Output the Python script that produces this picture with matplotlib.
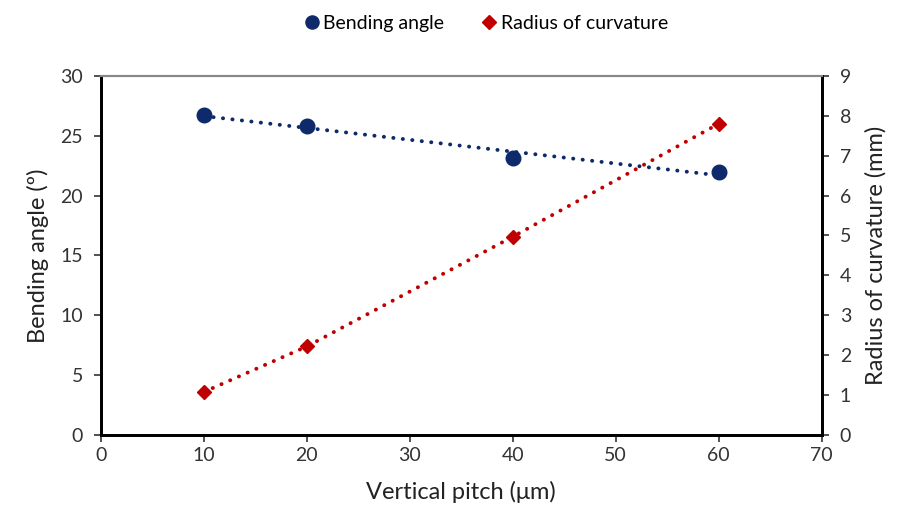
import matplotlib.pyplot as plt
import numpy as np

# data
pitch = np.array([10, 20, 40, 60])
bending_angle = np.array([26.75, 25.8, 23.1, 22.0])
radius_curv = np.array([1.08, 2.22, 4.97, 7.8])

blue = '#0E2A6B'
red = '#C00000'

plt.rcParams['font.family'] = ['Lato', 'DejaVu Sans']

fig = plt.figure(figsize=(8.98, 5.27), dpi=100)
ax = fig.add_axes([0.1125, 0.1746, 0.8025, 0.6814])
ax2 = ax.twinx()

dots = (0, (0.05, 2.4))

# linear trend line for bending angle
k, b = np.polyfit(pitch, bending_angle, 1)
ax.plot(pitch, k * pitch + b, linestyle=dots, color=blue, lw=2.8,
        dash_capstyle='round', zorder=2)
ax.plot(pitch, bending_angle, 'o', color=blue, ms=10.5, label='Bending angle', zorder=3)

ax2.plot(pitch, radius_curv, linestyle=dots, color=red, lw=2.8,
         dash_capstyle='round', zorder=2)
ax2.plot(pitch, radius_curv, 'D', color=red, ms=7.5, label='Radius of curvature', zorder=3)

ax.set_xlim(0, 70)
ax.set_ylim(0, 30)
ax2.set_ylim(0, 9)
ax.set_xticks(np.arange(0, 71, 10))
ax.set_yticks(np.arange(0, 31, 5))
ax2.set_yticks(np.arange(0, 10, 1))

for a in (ax, ax2):
    for s in ('left', 'right', 'bottom'):
        a.spines[s].set_linewidth(2)
        a.spines[s].set_color('black')
    a.spines['top'].set_color('#888888')
    a.spines['top'].set_linewidth(1.5)
    a.tick_params(direction='out', length=5, width=1.2, labelsize=14, colors='#333333')
    a.tick_params(axis='y', pad=8)

ax.set_xlabel('Vertical pitch (\u03bcm)', fontsize=17, color='#222222', labelpad=12)
ax.set_ylabel('Bending angle (\u00ba)', fontsize=17, color='#222222', labelpad=8)
ax2.set_ylabel('Radius of curvature (mm)', fontsize=17, color='#222222', labelpad=10)

h1, l1 = ax.get_legend_handles_labels()
h2, l2 = ax2.get_legend_handles_labels()
fig.legend(h1 + h2, l1 + l2, loc='center', bbox_to_anchor=(0.54, 0.955), ncol=2,
           frameon=False, fontsize=14, handletextpad=0.1, columnspacing=1.8,
           handlelength=1.0, markerscale=0.9)

fig.savefig('out.png', dpi=100)
